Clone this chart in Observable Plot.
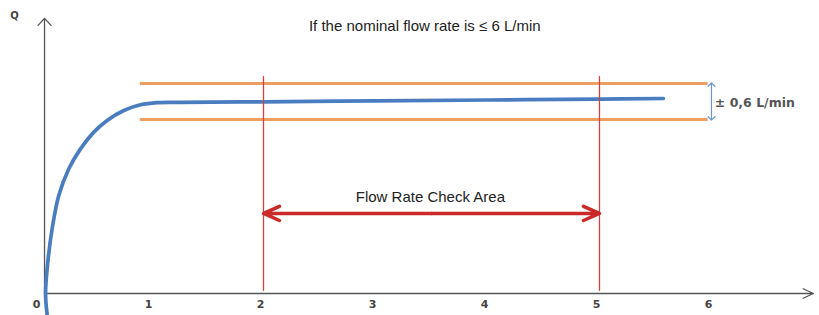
<!DOCTYPE html>
<html><head><meta charset="utf-8">
<script src="https://cdn.jsdelivr.net/npm/d3@7"></script>
<script src="https://cdn.jsdelivr.net/npm/@observablehq/plot@0.6"></script>
<style>body{margin:0;background:#fff}</style>
</head><body><div id="chart"></div>
<script>
const title = "If the nominal flow rate is ≤ 6 L/min";
const xTickValues = [0, 1, 2, 3, 4, 5, 6];
const xTickLabels = ["0", "1", "2", "3", "4", "5", "6"];
// blue flow curve (time, Q)
const curveT = [0.069, 0.054, 0.074, 0.113, 0.172, 0.262, 0.366, 0.485, 0.604, 0.753, 0.902, 1.051, 1.259, 2, 3, 4, 5, 5.571];
const curveQ = [-0.73, 0, 1.04, 2.16, 3.27, 4.16, 4.82, 5.38, 5.77, 6.10, 6.29, 6.36, 6.37, 6.39, 6.42, 6.45, 6.48, 6.50];
// tolerance band ±0.6 around nominal
const nominalQ = 6.4;
const tolerance = 0.6;
const bandQ = [nominalQ - tolerance, nominalQ + tolerance];
const bandT = [0.90, 5.97];
const bandLabel = "± 0,6 L/min";
// flow rate check area
const checkT = [2, 5];
const checkLabel = "Flow Rate Check Area";
const checkArrowQ = 2.67;
const axisLabelY = "Q";

const curve = curveT.map((t, i) => ({t, q: curveQ[i]}));
const ticks = xTickValues.map((v, i) => ({v, label: xTickLabels[i]}));
const yAxisT = 0.045;
const mid = (checkT[0] + checkT[1]) / 2;

const chart = Plot.plot({
  width: 819, height: 315,
  marginLeft: 39, marginRight: 5, marginTop: 0, marginBottom: 0,
  x: {domain: [0, 6.92], axis: null},
  y: {domain: [-0.7333, 9.7667], axis: null},
  style: {background: "#fff", overflow: "visible"},
  marks: [
    // axes
    Plot.arrow([0], {x1: yAxisT, y1: 0, x2: yAxisT, y2: 9.17, stroke: "#555", strokeWidth: 1.3, headLength: 11, headAngle: 86}),
    Plot.arrow([0], {x1: yAxisT, y1: 0, x2: 6.91, y2: 0, stroke: "#555", strokeWidth: 1.3, headLength: 13, headAngle: 50}),
    Plot.text(ticks, {x: "v", y: -0.36, text: "label", dx: -3, fontSize: 11, fontWeight: "bold", fontFamily: "DejaVu Sans", fill: "#444"}),
    Plot.text([axisLabelY], {x: -0.223, y: 9.27, text: d => d, fontSize: 10, fontWeight: "bold", fontFamily: "DejaVu Sans", fill: "#444"}),
    // band
    Plot.ruleY(bandQ, {x1: bandT[0], x2: bandT[1], stroke: "#ef9f64", strokeWidth: 3}),
    // curve
    Plot.line(curve, {x: "t", y: "q", stroke: "#4a7cc0", strokeWidth: 3.7, curve: "catmull-rom"}),
    // check lines
    Plot.ruleX(checkT, {y1: 0.07, y2: 7.23, stroke: "#d0443c", strokeWidth: 1.3}),
    Plot.arrow([0], {x1: mid, y1: checkArrowQ, x2: checkT[0], y2: checkArrowQ, stroke: "#cc2a2a", strokeWidth: 3.5, headLength: 7.5, headAngle: 48}),
    Plot.arrow([0], {x1: mid, y1: checkArrowQ, x2: checkT[1], y2: checkArrowQ, stroke: "#cc2a2a", strokeWidth: 3.5, headLength: 7.5, headAngle: 48}),
    Plot.text([checkLabel], {x: 3.49, y: 3.2, text: d => d, fontSize: 15, fontFamily: "Liberation Sans", fill: "#222"}),
    // tolerance bracket
    Plot.arrow([0], {x1: 6.0, y1: nominalQ, x2: 6.0, y2: bandQ[1] + 0.02, stroke: "#6a97cc", strokeWidth: 1.2, headLength: 6, headAngle: 90}),
    Plot.arrow([0], {x1: 6.0, y1: nominalQ, x2: 6.0, y2: bandQ[0] - 0.02, stroke: "#6a97cc", strokeWidth: 1.2, headLength: 6, headAngle: 90}),
    Plot.text([bandLabel], {x: 6.03, y: nominalQ - 0.05, text: d => d, textAnchor: "start", fontSize: 12.5, fontWeight: "bold", fontFamily: "DejaVu Sans", fill: "#555"}),
    // title
    Plot.text([title], {x: 3.44, y: 8.9, text: d => d, fontSize: 15, fontFamily: "Liberation Sans", fill: "#222"})
  ]
});
document.getElementById("chart").appendChild(chart);
</script>
</body></html>
